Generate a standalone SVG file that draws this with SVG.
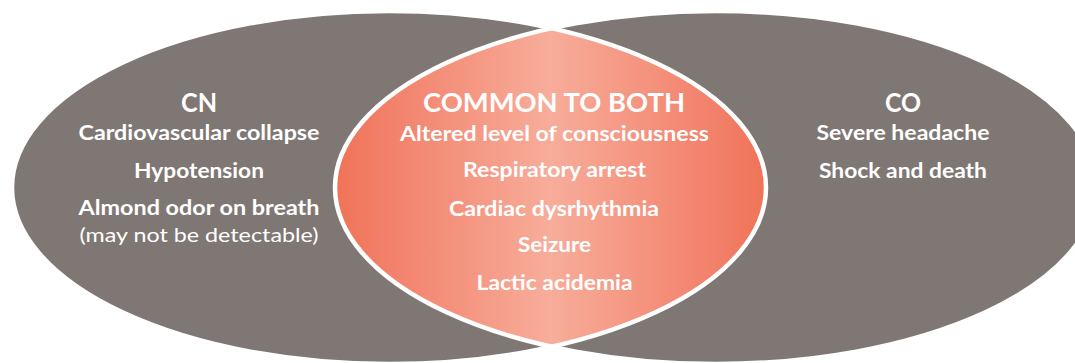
<svg xmlns="http://www.w3.org/2000/svg" width="1075" height="363" viewBox="0 0 1075 363">
  <style>
    .set { fill: #7F7774; }
    .edge { fill: none; stroke: #FFFFFF; stroke-width: 4.5; }
    text { font-family: "Lato", "Liberation Sans", sans-serif; fill: #FFFFFF; text-anchor: middle; }
    .hd { font-size: 26px; font-weight: bold; }
    .b { font-size: 20px; font-weight: bold; }
    .r { font-size: 20px; font-weight: normal; }
  </style>
  <defs>
    <linearGradient id="lensGrad" gradientUnits="userSpaceOnUse" x1="335" y1="0" x2="766" y2="0">
      <stop offset="0" stop-color="#F07356"/>
      <stop offset="0.12" stop-color="#F2806A"/>
      <stop offset="0.5" stop-color="#F7AD9A"/>
      <stop offset="0.88" stop-color="#F2806A"/>
      <stop offset="1" stop-color="#F07356"/>
    </linearGradient>
    <clipPath id="leftClip">
      <ellipse cx="389" cy="187.5" rx="377" ry="176.5"/>
    </clipPath>
  </defs>

  <g id="node-cn">
    <ellipse class="set" cx="389" cy="187.5" rx="377" ry="176.5"/>
  </g>
  <g id="node-co">
    <ellipse class="set" cx="716" cy="187.5" rx="381" ry="176.5"/>
  </g>
  <g id="node-common">
    <ellipse cx="716" cy="187.5" rx="381" ry="176.5" fill="url(#lensGrad)" clip-path="url(#leftClip)"/>
  </g>
  <g id="connectors">
    <ellipse class="edge" cx="389" cy="187.5" rx="377" ry="176.5"/>
    <ellipse class="edge" cx="716" cy="187.5" rx="381" ry="176.5"/>
  </g>

  <g id="text-cn">
    <text class="hd" x="199" y="112" textLength="36" lengthAdjust="spacingAndGlyphs">CN</text>
    <text class="b" x="199" y="140" textLength="241" lengthAdjust="spacingAndGlyphs">Cardiovascular collapse</text>
    <text class="b" x="199" y="177.5" textLength="130" lengthAdjust="spacingAndGlyphs">Hypotension</text>
    <text class="b" x="199" y="214.5" textLength="241" lengthAdjust="spacingAndGlyphs">Almond odor on breath</text>
    <text class="r" x="199" y="241.5" textLength="239" lengthAdjust="spacingAndGlyphs">(may not be detectable)</text>
  </g>
  <g id="text-common">
    <text class="hd" x="554" y="112.3" textLength="262" lengthAdjust="spacingAndGlyphs">COMMON TO BOTH</text>
    <text class="b" x="554.5" y="140.7" textLength="309" lengthAdjust="spacingAndGlyphs">Altered level of consciousness</text>
    <text class="b" x="554.5" y="177.3" textLength="183" lengthAdjust="spacingAndGlyphs">Respiratory arrest</text>
    <text class="b" x="554" y="215.7" textLength="210" lengthAdjust="spacingAndGlyphs">Cardiac dysrhythmia</text>
    <text class="b" x="554.5" y="252.3" textLength="73" lengthAdjust="spacingAndGlyphs">Seizure</text>
    <text class="b" x="554.5" y="290" textLength="156" lengthAdjust="spacingAndGlyphs">Lactic acidemia</text>
  </g>
  <g id="text-co">
    <text class="hd" x="903" y="111.5" textLength="36" lengthAdjust="spacingAndGlyphs">CO</text>
    <text class="b" x="903" y="140" textLength="173" lengthAdjust="spacingAndGlyphs">Severe headache</text>
    <text class="b" x="903" y="177.5" textLength="168" lengthAdjust="spacingAndGlyphs">Shock and death</text>
  </g>
</svg>
